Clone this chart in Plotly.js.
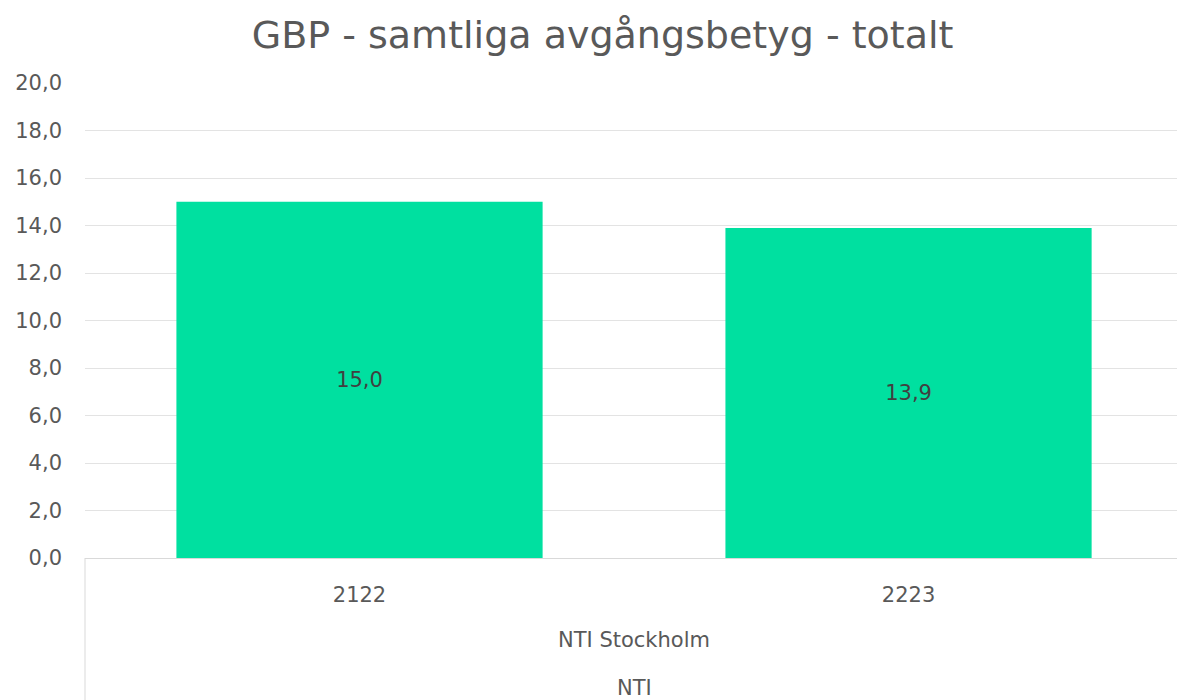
<!DOCTYPE html>
<html>
<head>
<meta charset="utf-8">
<script src="https://cdn.plot.ly/plotly-3.0.1.min.js"></script>
<style>html,body{margin:0;padding:0;background:#fff;}#chart{width:1177px;height:700px;}</style>
</head>
<body>
<div id="chart"></div>
<script>
const categories = ["2122", "2223"];
const values = [15.0, 13.9];
const level2Label = "NTI Stockholm";
const level3Label = "NTI";
const titleText = "GBP - samtliga avgångsbetyg - totalt";

const fontFamily = "'DejaVu Sans', sans-serif";
const trace = {
  type: "bar",
  x: categories,
  y: values,
  marker: {color: "#00E0A0"},
  width: 0.667,
  text: values.map(v => v.toFixed(1).replace(".", ",")),
  textposition: "inside",
  insidetextanchor: "middle",
  textfont: {family: fontFamily, size: 21, color: "#404040"},
  hoverinfo: "none"
};

const layout = {
  width: 1177, height: 700,
  margin: {l: 85, r: 0, t: 83, b: 142},
  paper_bgcolor: "#fff", plot_bgcolor: "#fff",
  separators: ",.",
  showlegend: false,
  title: {text: titleText, font: {family: fontFamily, size: 38, color: "#595959"}, x: 0.512, xanchor: "center", y: 0.951, yanchor: "middle"},
  xaxis: {
    type: "category",
    range: [-0.5, 1.489],
    showgrid: false,
    showline: true, linecolor: "#d9d9d9", linewidth: 1,
    ticks: "", ticklabelstandoff: 18,
    tickfont: {family: fontFamily, size: 21, color: "#595959"},
    zeroline: false, fixedrange: true
  },
  yaxis: {
    range: [0, 20], dtick: 2, tickformat: ".1f",
    showgrid: true, gridcolor: "#e3e3e3", gridwidth: 1,
    zeroline: false, showline: false, ticks: "", ticklabelstandoff: 22,
    tickfont: {family: fontFamily, size: 21, color: "#595959"},
    fixedrange: true
  },
  shapes: [
    {type: "line", xref: "paper", yref: "paper", x0: 0, x1: 0, y0: 0, y1: -0.3, line: {color: "#d9d9d9", width: 1}}
  ],
  annotations: [
    {x: 0.5, xref: "x", y: (558 - 640) / 475, yref: "paper", text: level2Label, showarrow: false, yanchor: "middle", font: {family: fontFamily, size: 21, color: "#595959"}},
    {x: 0.5, xref: "x", y: (558 - 688) / 475, yref: "paper", text: level3Label, showarrow: false, yanchor: "middle", font: {family: fontFamily, size: 21, color: "#595959"}}
  ]
};

Plotly.newPlot("chart", [trace], layout, {displayModeBar: false, staticPlot: true});
</script>
</body>
</html>
